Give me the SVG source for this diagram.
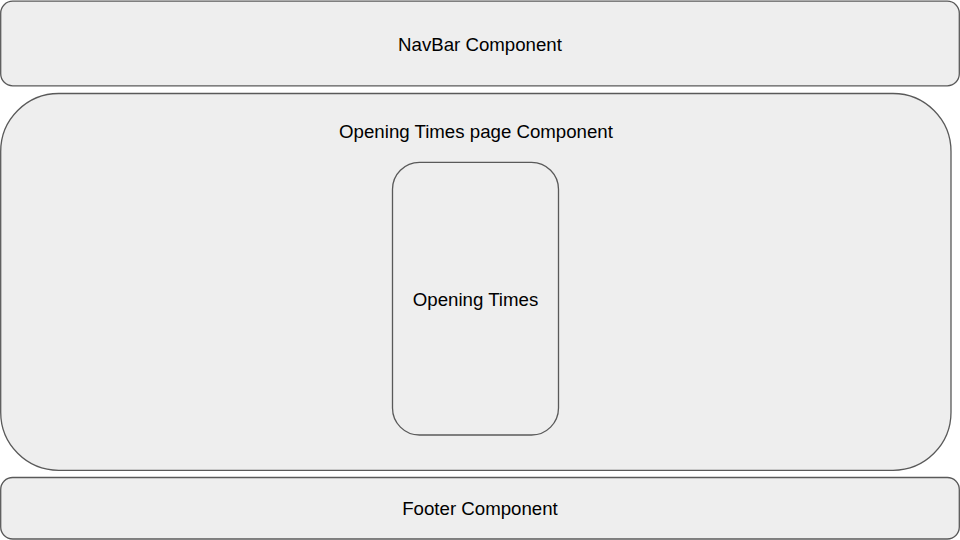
<svg xmlns="http://www.w3.org/2000/svg" width="960" height="540" viewBox="0 0 960 540">
<style>
.box{fill:#eeeeee;stroke:#595959;stroke-width:1.3}
.lbl{font-family:"Liberation Sans",Arial,sans-serif;font-size:18.67px;fill:#000;text-anchor:middle}
</style>
<rect width="960" height="540" fill="#ffffff"/>
<g id="navbar">
<rect class="box" x="0.7" y="1.2" width="958.6" height="84.6" rx="12"/>
<text class="lbl" x="480" y="51">NavBar Component</text>
</g>
<g id="page">
<rect class="box" x="0.7" y="93.5" width="950.3" height="376.8" rx="58"/>
<text class="lbl" x="476" y="138">Opening Times page Component</text>
</g>
<g id="opening-times">
<rect class="box" x="392.5" y="162.3" width="166" height="272.7" rx="27"/>
<text class="lbl" x="475.5" y="306">Opening Times</text>
</g>
<g id="footer">
<rect class="box" x="0.7" y="477.5" width="958.6" height="61.5" rx="12"/>
<text class="lbl" x="480" y="515">Footer Component</text>
</g>
<g id="connectors"></g>
</svg>
